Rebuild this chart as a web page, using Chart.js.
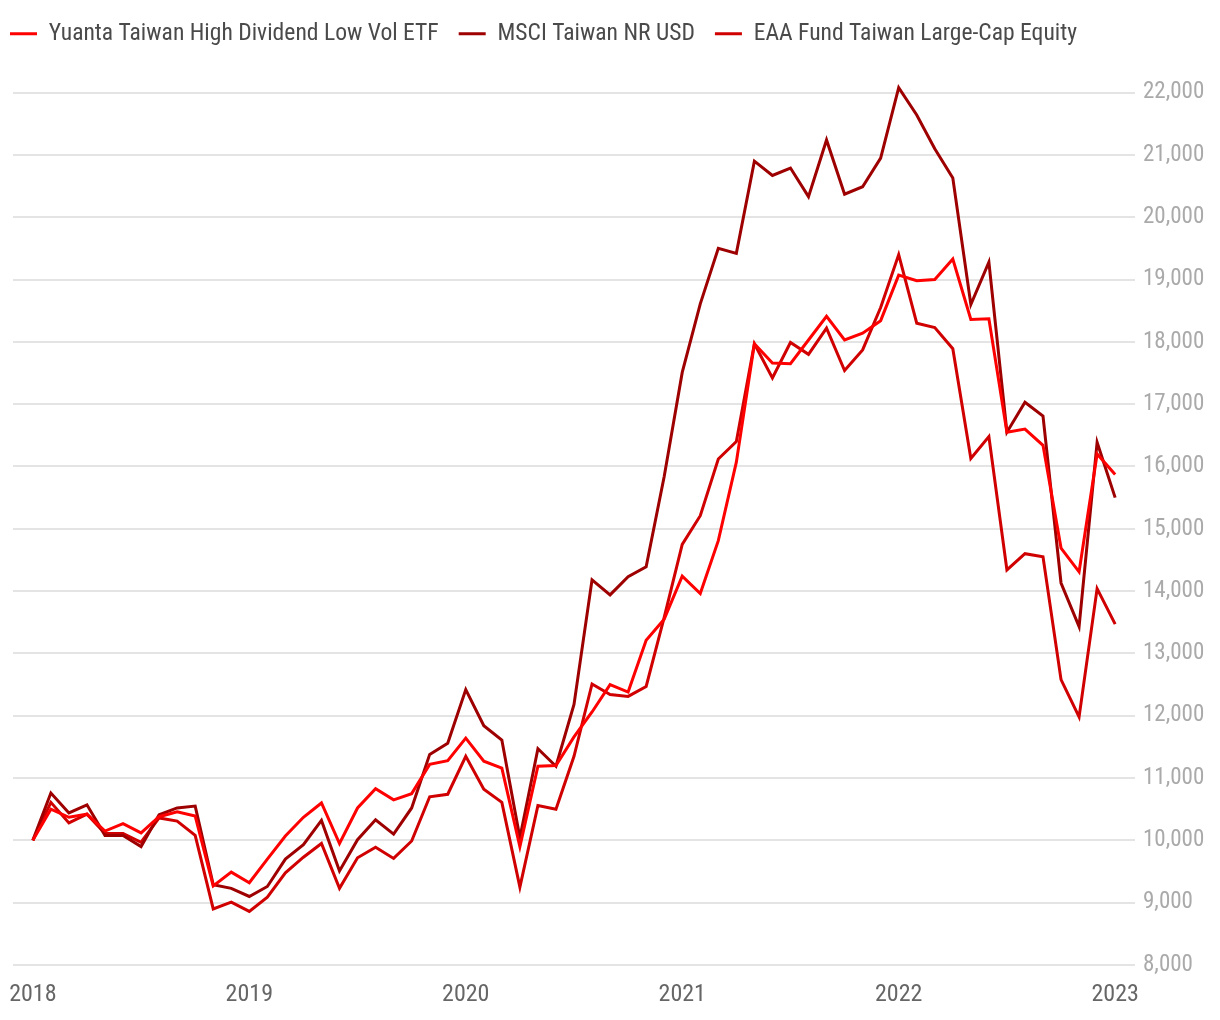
<!DOCTYPE html>
<html>
<head>
<meta charset="utf-8">
<script src="https://cdn.jsdelivr.net/npm/chart.js@4.4.1/dist/chart.umd.min.js"></script>
<style>
  html, body { margin: 0; padding: 0; background: #ffffff; }
  #wrap { width: 1220px; height: 1020px; position: relative; }
</style>
</head>
<body>
<div id="wrap"><canvas id="c" width="1220" height="1020"></canvas></div>
<script>
// Month index 0 = start of 2018, 60 = start of 2023 (monthly points)
const yearLabels = ["2018", "2019", "2020", "2021", "2022", "2023"];
const yearTickPositions = [0, 12, 24, 36, 48, 60];

const seriesNames = [
  "Yuanta Taiwan High Dividend Low Vol ETF",
  "MSCI Taiwan NR USD",
  "EAA Fund Taiwan Large-Cap Equity"
];

const yuanta = [
  10000, 10500, 10370, 10420, 10150, 10270, 10120, 10380, 10460, 10390,
  9270, 9490, 9320, 9700, 10070, 10370, 10600, 9950, 10520, 10830,
  10650, 10750, 11220, 11280, 11640, 11270, 11160, 9900, 11190, 11200,
  11660, 12060, 12500, 12380, 13210, 13550, 14240, 13960, 14810, 16070,
  17970, 17660, 17650, 18030, 18410, 18030, 18140, 18340, 19070, 18980,
  19000, 19330, 18360, 18370, 16550, 16600, 16340, 14690, 14310, 16200,
  15870
];

const msci = [
  10000, 10760, 10440, 10570, 10080, 10080, 9900, 10410, 10520, 10550,
  9290, 9230, 9100, 9260, 9700, 9930, 10320, 9510, 10010, 10330,
  10100, 10520, 11380, 11560, 12420, 11840, 11610, 10040, 11470, 11190,
  12180, 14180, 13940, 14230, 14390, 15840, 17510, 18610, 19500, 19420,
  20900, 20670, 20790, 20330, 21240, 20370, 20490, 20950, 22080, 21640,
  21100, 20630, 18600, 19280, 16550, 17030, 16810, 14130, 13430, 16390,
  15500
];

const eaa = [
  10000, 10610, 10280, 10420, 10110, 10110, 9970, 10360, 10310, 10080,
  8900, 9010, 8860, 9090, 9480, 9730, 9950, 9230, 9720, 9890,
  9710, 9990, 10700, 10740, 11350, 10820, 10610, 9250, 10560, 10500,
  11350, 12510, 12340, 12310, 12470, 13580, 14750, 15210, 16120, 16400,
  17970, 17420, 17990, 17800, 18220, 17540, 17870, 18550, 19400, 18300,
  18230, 17890, 16130, 16480, 14340, 14600, 14550, 12580, 11980, 14040,
  13470
];

const seriesColors = ["#ff0000", "#9e0000", "#d10000"];

const FONT = "'Roboto Condensed', 'Liberation Sans Narrow', 'DejaVu Sans Condensed', sans-serif";

function toPoints(arr) { return arr.map((v, i) => ({ x: i, y: v })); }

const datasets = [yuanta, msci, eaa].map((arr, k) => ({
  label: seriesNames[k],
  data: toPoints(arr),
  borderColor: seriesColors[k],
  backgroundColor: seriesColors[k],
  borderWidth: 3,
  pointRadius: 0,
  tension: 0,
  fill: false,
  clip: false
}));

// Adds empty space below the legend row and shifts the legend to the page edge
const legendSpacer = {
  id: 'legendSpacer',
  beforeLayout(chart) {
    const lg = chart.legend;
    if (lg && !lg._spacerPatched) {
      const origFit = lg.fit;
      lg.fit = function () {
        origFit.call(this);
        this.height += 37;
      };
      lg._spacerPatched = true;
    }
  },
  afterLayout(chart) {
    if (chart.legend) chart.legend.left = -10;
  }
};

new Chart(document.getElementById('c'), {
  type: 'line',
  data: { datasets },
  plugins: [legendSpacer],
  options: {
    responsive: false,
    animation: false,
    devicePixelRatio: 1,
    layout: { padding: { left: 13, right: 0, top: 2, bottom: 0 } },
    plugins: {
      tooltip: { enabled: false },
      legend: {
        display: true,
        position: 'top',
        align: 'start',
        labels: {
          font: { family: FONT, size: 23.6 },
          color: '#4a4a4a',
          boxWidth: 27,
          boxHeight: 3,
          padding: 20,
          generateLabels(chart) {
            return chart.data.datasets.map((ds, i) => ({
              text: ds.label,
              fillStyle: ds.borderColor,
              strokeStyle: ds.borderColor,
              lineWidth: 0,
              hidden: false,
              datasetIndex: i,
              fontColor: '#4a4a4a'
            }));
          }
        }
      }
    },
    scales: {
      x: {
        type: 'linear',
        min: -1.1,
        max: 61.1,
        grid: { display: false, drawTicks: false },
        border: { display: false },
        afterBuildTicks(scale) {
          scale.ticks = yearTickPositions.map(v => ({ value: v }));
        },
        afterFit(scale) {
          scale.height = 55;
          scale.paddingLeft = 0;
          scale.paddingRight = 0;
        },
        ticks: {
          autoSkip: false,
          maxRotation: 0,
          padding: 16,
          color: '#666666',
          font: { family: FONT, size: 24 },
          callback(value) {
            const idx = yearTickPositions.indexOf(value);
            return idx >= 0 ? yearLabels[idx] : '';
          }
        }
      },
      y: {
        position: 'right',
        min: 8000,
        max: 22000,
        grid: { color: '#e4e4e4', lineWidth: 2, drawTicks: false },
        border: { display: false },
        afterFit(scale) { scale.width = 85; },
        ticks: {
          stepSize: 1000,
          padding: 8,
          color: '#aaaaaa',
          font: { family: FONT, size: 23 },
          callback(value) { return value.toLocaleString('en-US'); }
        }
      }
    }
  }
});
</script>
</body>
</html>
